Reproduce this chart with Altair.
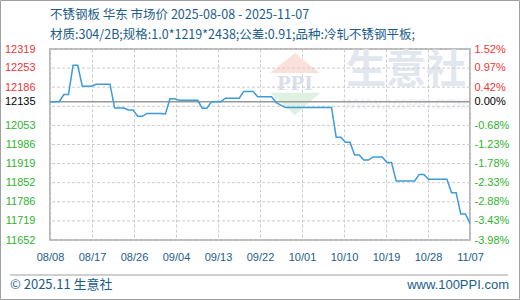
import altair as alt
import pandas as pd

# ---- data ----
start_date = "2025-08-08"
prices = [12135, 12135, 12135, 12160, 12160, 12262, 12262, 12189, 12189, 12189,
          12196, 12196, 12196, 12196, 12113, 12113, 12113, 12106, 12106, 12084,
          12084, 12094, 12094, 12094, 12094, 12092, 12145, 12145, 12140, 12140,
          12140, 12140, 12140, 12112, 12112, 12135, 12135, 12135, 12147, 12147,
          12147, 12147, 12171, 12171, 12171, 12152, 12152, 12152, 12152, 12132,
          12123, 12115, 12115, 12115, 12115, 12115, 12115, 12115, 12115, 12115,
          12115, 12115, 12011, 12011, 11993, 11993, 11949, 11949, 11931, 11931,
          11942, 11942, 11942, 11923, 11923, 11858, 11858, 11858, 11858, 11858,
          11881, 11881, 11864, 11864, 11864, 11864, 11864, 11817, 11817, 11743,
          11743, 11710]
base_val = 12135
x_labels = ["08/08", "08/17", "08/26", "09/04", "09/13", "09/22",
            "10/01", "10/10", "10/19", "10/28", "11/07"]
y_labels = [12319, 12253, 12186, 12135, 12053, 11986, 11919, 11852, 11786, 11719, 11652]
grid_vals = [12319, 12252.3, 12185.6, 12118.9, 12052.2, 11985.5,
             11918.8, 11852.1, 11785.4, 11718.7, 11652]
title1 = "不锈钢板 华东 市场价 2025-08-08 - 2025-11-07"
title2 = "材质:304/2B;规格:1.0*1219*2438;公差:0.91;品种:冷轧不锈钢平板;"
footer_left = "© 2025.11 生意社"
footer_right = "www.100PPI.com"

dates = pd.date_range(start_date, periods=len(prices))
df = pd.DataFrame({"d": range(len(prices)), "date": dates, "price": prices})
n_days = len(prices) - 1

yscale = alt.Scale(domain=[y_labels[-1], y_labels[0]], nice=False, zero=False)
xscale = alt.Scale(domain=[0, n_days], nice=False, zero=False)
x_ticks = [i * n_days / 10 for i in range(11)]
x_expr = "[" + ",".join(f"'{l}'" for l in x_labels) + f"][round(datum.value/{n_days/10})]"

LBL_FONT = "Liberation Sans"
BLUE = "#1b5d8c"
label_color = {
    "condition": [
        {"test": f"datum.value > {base_val}", "value": "#f03434"},
        {"test": f"datum.value < {base_val}", "value": "#2fb22f"},
    ],
    "value": "#000000",
}
left_axis = alt.Axis(orient="left", values=y_labels, format="d", title=None, grid=False,
                     domain=False, ticks=False, labelColor=label_color, labelFont=LBL_FONT,
                     labelFontSize=11, labelPadding=15, labelOverlap=False)

one = pd.DataFrame({"k": [0]})

def txt(text, x, y, **kw):
    return alt.Chart(one).mark_text(text=text, **kw).encode(x=alt.value(x), y=alt.value(y))

# watermark
wm_red = alt.Chart(one).mark_point(shape="M-1,0.4L1,0.4L0,-0.4Z", size=2500, filled=True,
                                   color="#fbe1dc", opacity=1).encode(x=alt.value(245), y=alt.value(14))
wm_green = alt.Chart(one).mark_point(shape="M-1,-0.45L1,-0.45L0,0.45Z", size=2500, filled=True,
                                     color="#dff2e2", opacity=1).encode(x=alt.value(245), y=alt.value(55))
wm_ppi = txt("PPI", 245, 34, font="Liberation Serif", fontSize=22, fontWeight="bold",
             color="#d9deea", align="center", baseline="middle")
wm_name = txt("生意社", 356, 22, font="Noto Sans CJK SC", fontSize=40, fontWeight="bold",
              color="#e2e6ef", align="center", baseline="middle")
wm_url = txt("WWW.100PPI.COM", 355, 56, font="Liberation Sans", fontSize=14,
             color="#eef0f4", align="center", baseline="middle")

hgrid = alt.Chart(pd.DataFrame({"g": grid_vals})).mark_rule(
    color="#cccccc", strokeDash=[3, 2], strokeWidth=1
).encode(y=alt.Y("g:Q", scale=yscale, axis=left_axis))

baseline = alt.Chart(pd.DataFrame({"v": [base_val]})).mark_rule(
    color="#999999", strokeWidth=1.5
).encode(y=alt.Y("v:Q", scale=yscale, axis=left_axis))

line = alt.Chart(df).mark_line(color="#3b9bdb", strokeWidth=1.5).encode(
    x=alt.X("d:Q", scale=xscale,
            axis=alt.Axis(values=x_ticks, labelExpr=x_expr, title=None, grid=True,
                          gridColor="#cccccc", gridDash=[3, 2], domain=False, ticks=False,
                          labelColor=BLUE, labelFont=LBL_FONT, labelFontSize=11,
                          labelPadding=11, labelFlush=False, labelOverlap=False)),
    y=alt.Y("price:Q", scale=yscale, axis=left_axis),
)

t1 = txt(title1, 0, -34, font="Noto Sans CJK SC", fontSize=12.5, color=BLUE,
         align="left", baseline="middle")
t2 = txt(title2, 0, -14, font="Noto Sans CJK SC", fontSize=12.5, color=BLUE,
         align="left", baseline="middle")
f1 = txt(footer_left, -40, 236, font="Noto Sans CJK SC", fontSize=13, color=BLUE,
         align="left", baseline="middle")
f2 = txt(footer_right, 459, 236, font="Liberation Sans", fontSize=13, color=BLUE,
         align="right", baseline="middle")
sep = alt.Chart(one).mark_rule(color="#a0a0a0", strokeWidth=1).encode(
    x=alt.value(-40), x2=alt.value(458), y=alt.value(226))
border = alt.Chart(one).mark_rect(fillOpacity=0, stroke="#a0a0a0", strokeWidth=1).encode(
    x=alt.value(-49.5), x2=alt.value(469.5), y=alt.value(-48.5), y2=alt.value(250.5))

main = alt.layer(wm_red, wm_green, wm_ppi, wm_name, wm_url, hgrid, baseline, line,
                 t1, t2, f1, f2, sep, border)

pct_expr = (f"(datum.value < {base_val} ? '-' : '') + "
            f"format(abs((datum.value - {base_val}) / {base_val} * 100), '.2f') + '%'")
right = alt.Chart(pd.DataFrame({"v": y_labels})).mark_rule(opacity=0).encode(
    y=alt.Y("v:Q", scale=yscale,
            axis=alt.Axis(orient="right", values=y_labels, labelExpr=pct_expr, title=None,
                          grid=False, domain=False, ticks=False, labelColor=label_color,
                          labelFont=LBL_FONT, labelFontSize=11, labelPadding=4,
                          labelOverlap=False))
)

chart = alt.layer(main, right).resolve_scale(y="independent").properties(
    width=420, height=191,
    padding={"left": 50, "top": 49, "right": 50, "bottom": 60},
    autosize=alt.AutoSizeParams(type="none"),
    background="white",
).configure_view(stroke="#a0a0a0", strokeWidth=1.5)

chart.save("out.html", embed_options={"renderer": "svg", "actions": False})
